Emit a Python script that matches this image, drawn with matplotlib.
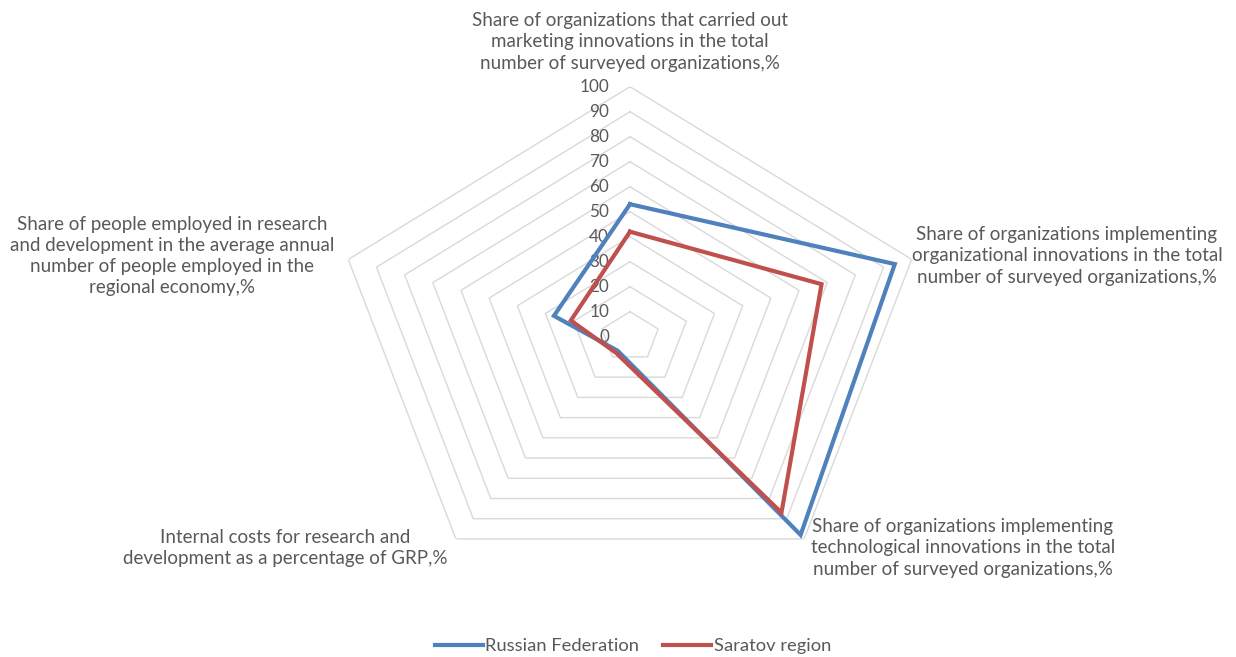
import numpy as np
import matplotlib
matplotlib.use("Agg")
import matplotlib.pyplot as plt
from matplotlib.transforms import offset_copy

categories = [
    "Share of organizations that carried out\nmarketing innovations in the total\nnumber of surveyed organizations,%",
    "Share of organizations implementing\norganizational innovations in the total\nnumber of surveyed organizations,%",
    "Share of organizations implementing\ntechnological innovations in the total\nnumber of surveyed organizations,%",
    "Internal costs for research and\ndevelopment as a percentage of GRP,%",
    "Share of people employed in research\nand development in the average annual\nnumber of people employed in the\nregional economy,%",
]
russia = [53, 94, 98, 7, 27]
saratov = [42, 68, 87, 8, 21]
series_names = ["Russian Federation", "Saratov region"]
ticks = list(range(0, 101, 10))

plt.rcParams['font.family'] = ['Lato', 'DejaVu Sans']
TXT = '#595959'
W, H = 1236, 657
fig = plt.figure(figsize=(W / 100, H / 100), dpi=100)

cx, cy, rx, ry = 630, 336.7, 296.2, 250
ax = fig.add_axes([(cx - rx) / W, (H - cy - ry) / H, 2 * rx / W, 2 * ry / H], projection='polar')
ax.set_aspect('auto')
ax.set_theta_offset(np.pi / 2)
ax.set_theta_direction(-1)
ax.set_ylim(0, 100)
ax.set_xticks([])
ax.set_yticks([])
ax.grid(False)
ax.spines['polar'].set_visible(False)
ax.patch.set_visible(False)

n = len(categories)
ang = np.linspace(0, 2 * np.pi, n, endpoint=False)
ang_c = np.concatenate([ang, ang[:1]])

for r in ticks[1:]:
    ax.plot(ang_c, [r] * (n + 1), color='#D9D9D9', lw=1.0, zorder=1)

colors = ['#4F81BD', '#C0504D']
handles = []
for vals, col, name in zip([russia, saratov], colors, series_names):
    v = list(vals) + [vals[0]]
    h, = ax.plot(ang_c, v, color=col, lw=3.0, label=name, zorder=3, solid_joinstyle='miter')
    handles.append(h)

tr = offset_copy(ax.transData, fig=fig, x=-21, y=0, units='dots')
for t in ticks:
    ax.text(0, t, str(t), transform=tr, ha='right', va='center', color=TXT, fontsize=12.3, zorder=2)

label_pos = [(630, 42), (1067, 256), (963, 548), (285, 548), (172, 256)]
for txt, (x, y) in zip(categories, label_pos):
    fig.text(x / W, 1 - y / H, txt, ha='center', va='center', color=TXT, fontsize=13.5,
             linespacing=1.29)

fig.legend(handles=handles, labels=series_names, loc='center', bbox_to_anchor=(633 / W, 1 - 646 / H),
           ncol=2, frameon=False, fontsize=13.2, handlelength=2.6, columnspacing=1.3,
           handletextpad=0.15, labelcolor=TXT, borderpad=0.2)

fig.savefig('out.png', dpi=100)
